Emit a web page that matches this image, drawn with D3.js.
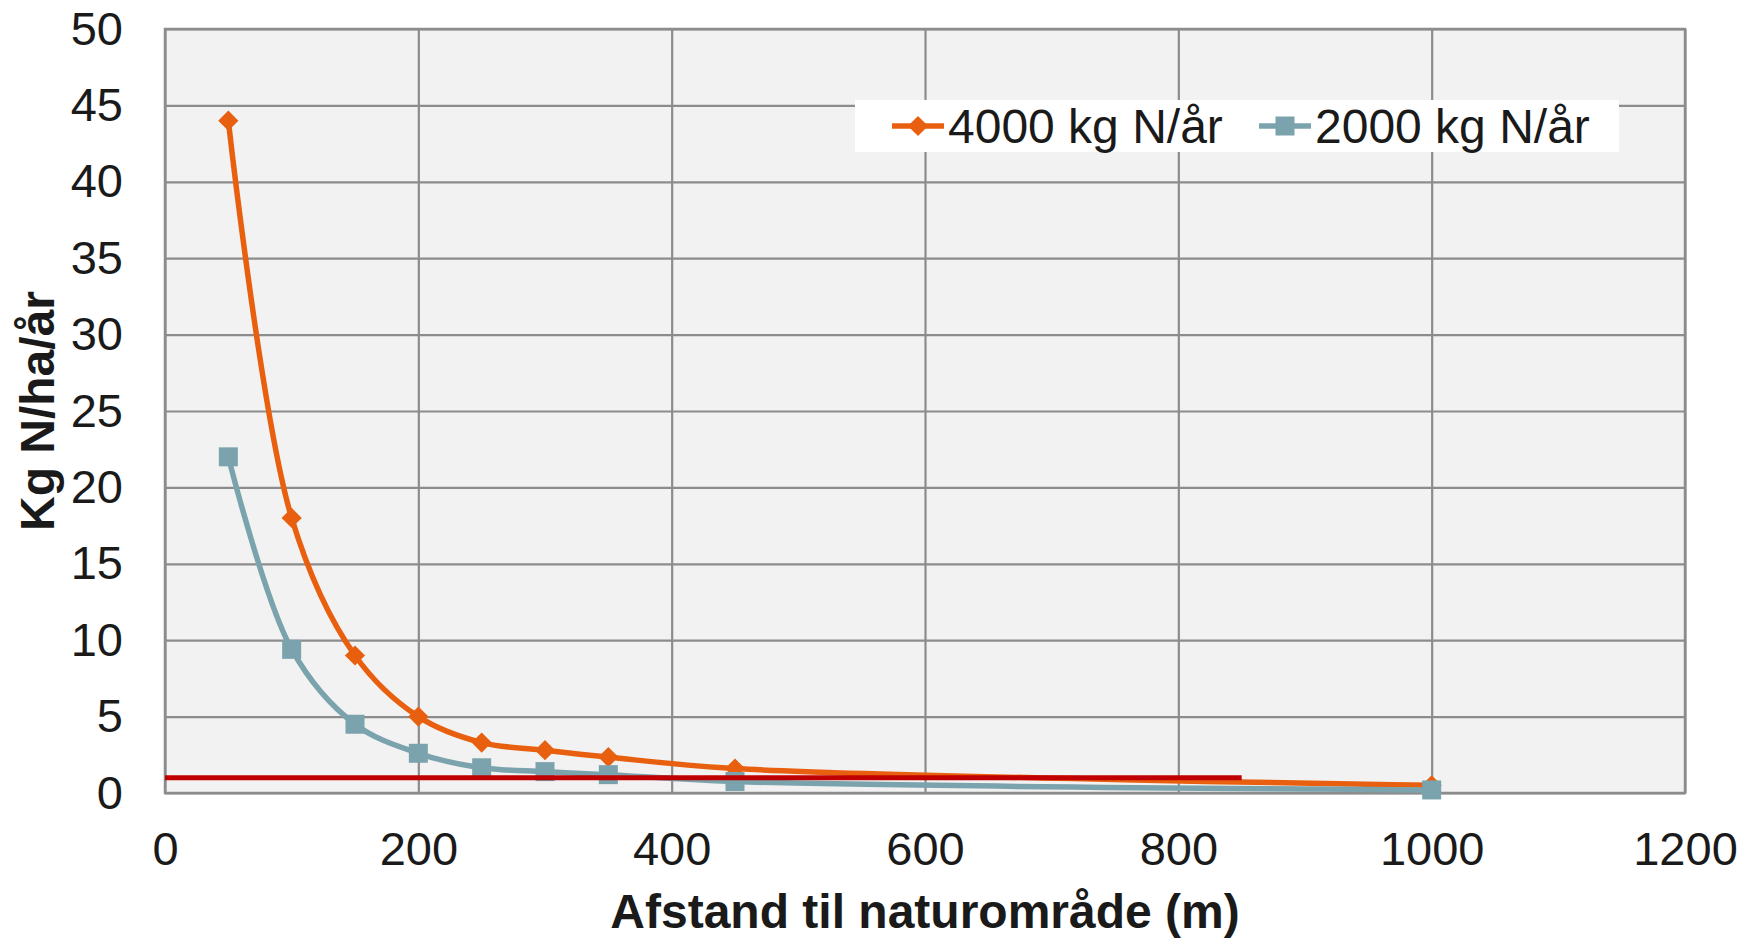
<!DOCTYPE html>
<html>
<head>
<meta charset="utf-8">
<script src="https://cdn.jsdelivr.net/npm/d3@7"></script>
<style>
  body { margin: 0; background: #fff; }
  svg text { font-family: "Liberation Sans", Arial, sans-serif; fill: #1a1a1a; }
</style>
</head>
<body>
<div id="chart"></div>
<script>
// data
const distance = [50, 100, 150, 200, 250, 300, 350, 450, 1000];
const load4000 = [44, 18, 9, 5, 3.3, 2.8, 2.35, 1.6, 0.5];
const load2000 = [22, 9.4, 4.5, 2.6, 1.65, 1.4, 1.2, 0.75, 0.2];
const limitX = [0, 850];
const limitY = [1, 1];
const xTicks = [0, 200, 400, 600, 800, 1000, 1200];
const yTicks = [0, 5, 10, 15, 20, 25, 30, 35, 40, 45, 50];
const seriesNames = ["4000 kg N/år", "2000 kg N/år"];

const width = 1742, height = 939;
const margin = {top: 29, right: 57, bottom: 146, left: 165};
const innerWidth = width - margin.left - margin.right;
const innerHeight = height - margin.top - margin.bottom;

const orange = "#e8600f", teal = "#7ba3ad", red = "#c00000", grid = "#8c8c8c";

const svg = d3.select("#chart").append("svg")
  .attr("width", width).attr("height", height);

const g = svg.append("g").attr("transform", `translate(${margin.left},${margin.top})`);

const x = d3.scaleLinear().domain([0, 1200]).range([0, innerWidth]);
const y = d3.scaleLinear().domain([0, 50]).range([innerHeight, 0]);

// plot area
g.append("rect")
  .attr("width", innerWidth).attr("height", innerHeight)
  .attr("fill", "#f2f2f2");

// gridlines
const yGrid = g.append("g").call(d3.axisLeft(y).tickValues(yTicks).tickSize(-innerWidth).tickFormat(""));
const xGrid = g.append("g").attr("transform", `translate(0,${innerHeight})`)
  .call(d3.axisBottom(x).tickValues(xTicks).tickSize(-innerHeight).tickFormat(""));
[yGrid, xGrid].forEach(a => {
  a.select(".domain").remove();
  a.selectAll("line").attr("stroke", grid).attr("stroke-width", 2.2);
});

// border
g.append("rect")
  .attr("width", innerWidth).attr("height", innerHeight)
  .attr("fill", "none").attr("stroke", grid).attr("stroke-width", 2.5);

// tick labels
const yAxis = g.append("g").call(d3.axisLeft(y).tickValues(yTicks).tickSize(0).tickPadding(42).tickFormat(d3.format("d")));
const xAxis = g.append("g").attr("transform", `translate(0,${innerHeight})`)
  .call(d3.axisBottom(x).tickValues(xTicks).tickSize(0).tickPadding(39).tickFormat(d3.format("d")));
[yAxis, xAxis].forEach(a => {
  a.select(".domain").remove();
  a.selectAll("text").style("font-size", "47px").attr("fill", "#1a1a1a");
});

// series
const line = d3.line().x(d => x(d[0])).y(d => y(d[1])).curve(d3.curveCatmullRom.alpha(0.5));

const s4000 = distance.map((d, i) => [d, load4000[i]]);
const s2000 = distance.map((d, i) => [d, load2000[i]]);

const diamond = d3.symbol().type(d3.symbolDiamond2).size(260);

g.append("path").datum(s4000)
  .attr("d", line).attr("fill", "none").attr("stroke", orange).attr("stroke-width", 5.5);
g.selectAll(".dia").data(s4000).join("path")
  .attr("class", "dia")
  .attr("d", diamond)
  .attr("transform", d => `translate(${x(d[0])},${y(d[1])})`)
  .attr("fill", orange);

g.append("path").datum(s2000)
  .attr("d", line).attr("fill", "none").attr("stroke", teal).attr("stroke-width", 5.5);
g.selectAll(".sq").data(s2000).join("rect")
  .attr("class", "sq")
  .attr("x", d => x(d[0]) - 9.5).attr("y", d => y(d[1]) - 9.5)
  .attr("width", 19).attr("height", 19)
  .attr("fill", teal);

// limit line
g.append("line")
  .attr("x1", x(limitX[0])).attr("x2", x(limitX[1]))
  .attr("y1", y(limitY[0])).attr("y2", y(limitY[1]))
  .attr("stroke", red).attr("stroke-width", 5);

// axis titles
svg.append("text")
  .attr("x", margin.left + innerWidth / 2).attr("y", 928)
  .attr("text-anchor", "middle")
  .style("font-size", "48px").style("font-weight", "bold")
  .text("Afstand til naturområde (m)");

svg.append("text")
  .attr("transform", `translate(54,${margin.top + innerHeight / 2}) rotate(-90)`)
  .attr("text-anchor", "middle")
  .style("font-size", "48px").style("font-weight", "bold")
  .text("Kg N/ha/år");

// legend
const legend = svg.append("g");
legend.append("rect")
  .attr("x", 855).attr("y", 100).attr("width", 764).attr("height", 52)
  .attr("fill", "#fff");

const legendItems = [
  {name: seriesNames[0], color: orange, x0: 892, tx: 948, mark: "diamond"},
  {name: seriesNames[1], color: teal, x0: 1259, tx: 1315, mark: "square"}
];
legendItems.forEach(it => {
  legend.append("line")
    .attr("x1", it.x0).attr("x2", it.x0 + 52)
    .attr("y1", 126).attr("y2", 126)
    .attr("stroke", it.color).attr("stroke-width", 5.5);
  if (it.mark === "diamond") {
    legend.append("path").attr("d", diamond)
      .attr("transform", `translate(${it.x0 + 26},126)`).attr("fill", it.color);
  } else {
    legend.append("rect")
      .attr("x", it.x0 + 16.5).attr("y", 116.5).attr("width", 19).attr("height", 19)
      .attr("fill", it.color);
  }
  legend.append("text")
    .attr("x", it.tx).attr("y", 143)
    .style("font-size", "48px")
    .text(it.name);
});
</script>
</body>
</html>
